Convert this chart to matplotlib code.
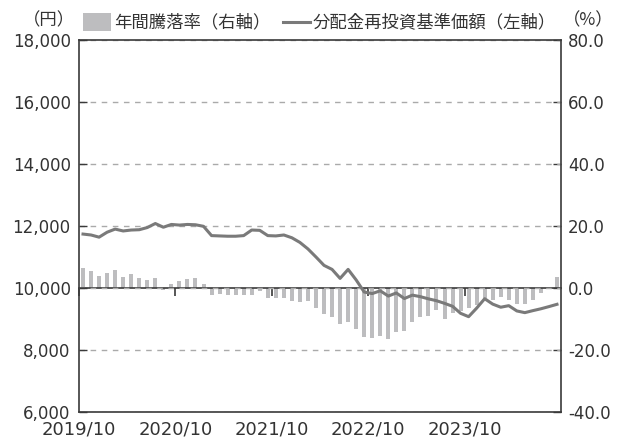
import numpy as np
import matplotlib.pyplot as plt
from matplotlib.patches import Rectangle
from matplotlib.lines import Line2D

plt.rcParams['font.family'] = ['DejaVu Sans', 'Noto Sans CJK JP']

# 年間騰落率 (%) - axe de droite
annual_return = [
    6.3, 5.6, 4.0, 4.9, 5.9, 3.7, 4.6, 3.3, 2.7, 3.3,
    -0.5, 1.4, 2.4, 3.0, 3.3, 1.4, -2.4, -1.8, -2.2, -2.2,
    -2.4, -2.1, -1.0, -3.2, -3.2, -3.3, -4.1, -4.4, -4.3, -6.5,
    -8.3, -9.3, -11.7, -11.0, -13.3, -15.7, -16.0, -15.5, -16.3, -14.1,
    -13.8, -11.0, -9.3, -9.0, -7.0, -10.1, -8.2, -7.5, -6.5, -5.4,
    -3.1, -4.0, -2.9, -3.8, -5.3, -5.1, -3.8, -1.6, -0.3, 3.5,
]

# 分配金再投資基準価額 (円) - axe de gauche
nav_reinvested = [
    11740, 11710, 11640, 11800, 11900, 11840, 11870, 11880, 11950, 12080,
    11960, 12050, 12030, 12050, 12040, 11990, 11690, 11680, 11670, 11670,
    11690, 11870, 11860, 11690, 11680, 11710, 11620, 11470, 11260, 11000,
    10730, 10600, 10310, 10600, 10260, 9870, 9820, 9910, 9740, 9840,
    9660, 9770, 9720, 9650, 9590, 9505, 9410, 9183, 9075, 9350,
    9655, 9480, 9380, 9430, 9260, 9205, 9270, 9330, 9400, 9474,
]

month_labels = [f"{2019 + (9 + i) // 12}/{(9 + i) % 12 + 1:02d}" for i in range(len(nav_reinvested))]
tick_labels = ["2019/10", "2020/10", "2021/10", "2022/10", "2023/10"]

legend_bar = "年間騰落率（右軸）"
legend_line = "分配金再投資基準価額（左軸）"

BAR_COLOR = "#bdbdbf"
LINE_COLOR = "#7a7a7a"
TEXT_COLOR = "#333333"
AXIS_COLOR = "#3a3a3a"
CJK = ['Noto Sans CJK JP', 'DejaVu Sans']

W, H = 624, 443
fig = plt.figure(figsize=(W / 100, H / 100), dpi=100)
ax = fig.add_axes([79 / W, 1 - 412 / H, (561 - 79) / W, (412 - 40) / H])
ax2 = ax.twinx()

x = np.arange(len(month_labels))
ax2.bar(x, annual_return, width=0.5, color=BAR_COLOR, linewidth=0)
ax.plot(x, nav_reinvested, color=LINE_COLOR, lw=2.2, solid_joinstyle='round')
ax.set_zorder(ax2.get_zorder() + 1)
ax.patch.set_visible(False)

ax.set_xlim(-0.5, len(x) - 0.5)
ax.set_ylim(6000, 18000)
ax2.set_ylim(-40, 80)
ax.set_yticks(np.arange(6000, 18001, 2000))
ax.yaxis.set_major_formatter(lambda v, p: f"{v:,.0f}")
ax2.set_yticks(np.arange(-40, 81, 20))
ax2.yaxis.set_major_formatter(lambda v, p: f"{v:.1f}")

tick_pos = [month_labels.index(t) - 0.5 for t in tick_labels]
ax.set_xticks(tick_pos, tick_labels)
ax.tick_params(axis='x', length=0, pad=6, labelsize=13, labelcolor=TEXT_COLOR)
ax.tick_params(axis='y', direction='in', length=6, width=1, pad=6,
               labelsize=12, color=AXIS_COLOR, labelcolor=TEXT_COLOR)
ax2.tick_params(axis='y', direction='in', length=6, width=1, pad=5,
                labelsize=12, color=AXIS_COLOR, labelcolor=TEXT_COLOR)

ax.grid(axis='y', ls=(0, (4, 4)), color='#aaaaaa', lw=1)

for s in ax.spines.values():
    s.set_color(AXIS_COLOR)
    s.set_linewidth(1.2)
for s in ax2.spines.values():
    s.set_visible(False)

# ligne du zéro avec les graduations des dates (vers le bas)
zero = ax.secondary_xaxis(10000, transform=ax.transData)
zero.set_alignment('bottom')
zero.set_xticks(tick_pos, labels=[])
zero.tick_params(direction='out', length=6, width=1.2, color=AXIS_COLOR)
for s in zero.spines.values():
    s.set_color(AXIS_COLOR)
    s.set_linewidth(1.2)

# en-tête : unités et légende
fig.text(75 / W, 1 - 20 / H, "（円）", ha='right', va='center', family=CJK,
         fontsize=12.5, color=TEXT_COLOR)
fig.text(563 / W, 1 - 20 / H, "（%）", ha='left', va='center', family=CJK,
         fontsize=12.5, color=TEXT_COLOR)
fig.add_artist(Rectangle((83 / W, 1 - 31 / H), 28 / W, 18 / H,
                         transform=fig.transFigure, color=BAR_COLOR, lw=0))
fig.text(114 / W, 1 - 22 / H, legend_bar, ha='left', va='center', family=CJK,
         fontsize=12.5, color=TEXT_COLOR)
fig.add_artist(Line2D([283 / W, 310 / W], [1 - 22 / H, 1 - 22 / H],
                      transform=fig.transFigure, color=LINE_COLOR, lw=2.2))
fig.text(313 / W, 1 - 22 / H, legend_line, ha='left', va='center', family=CJK,
         fontsize=12.5, color=TEXT_COLOR)

fig.savefig("out.png", dpi=100)
